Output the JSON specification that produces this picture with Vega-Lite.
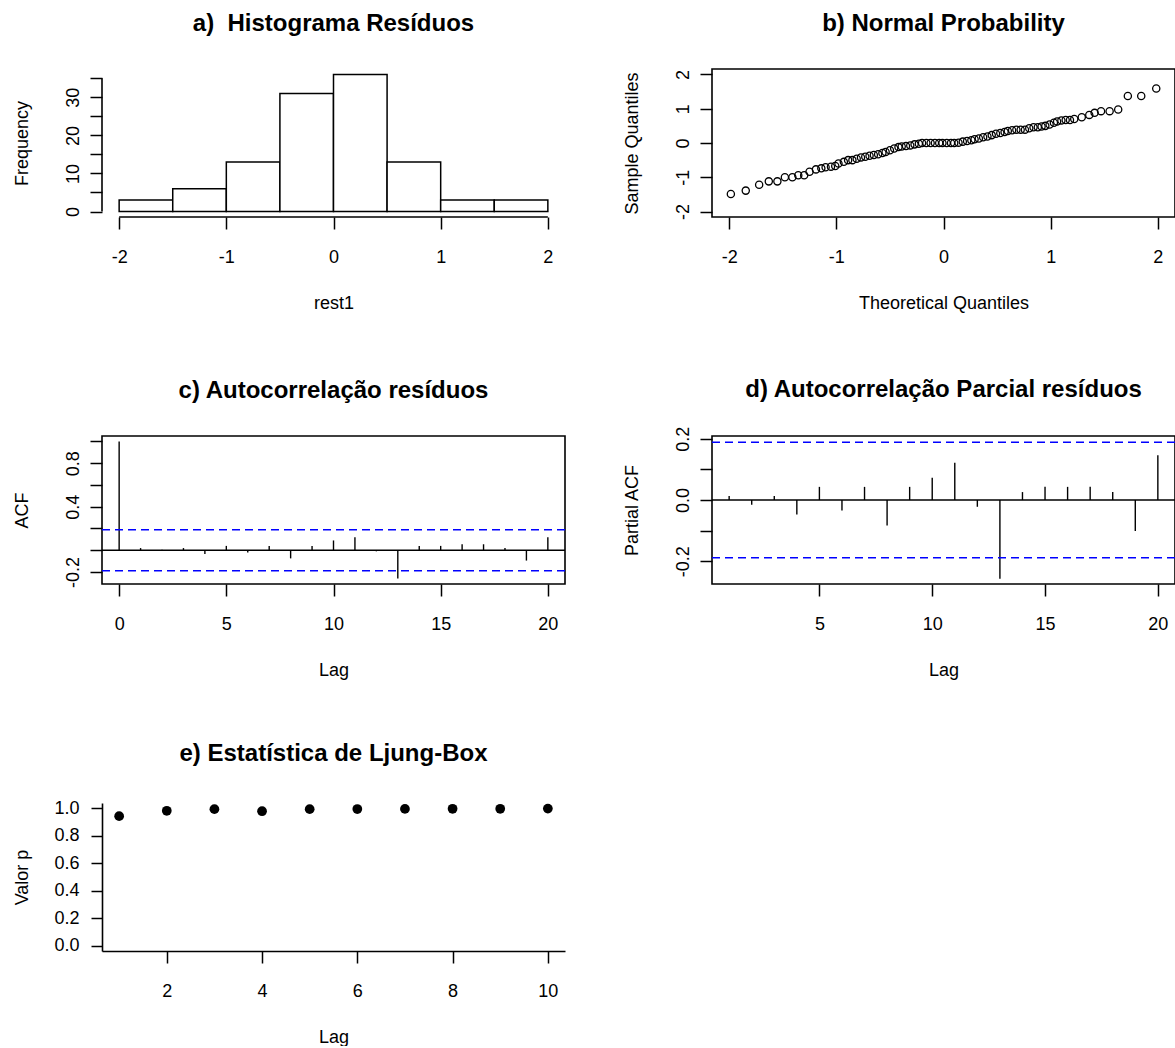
{
  "$schema": "https://vega.github.io/schema/vega-lite/v6.json",
  "background": "white",
  "padding": {"left": 12, "top": 11, "right": 0, "bottom": 0},
  "bounds": "flush",
  "columns": 2,
  "spacing": {"row": 219, "column": 147},
  "config": {
    "font": "Liberation Sans",
    "view": {"stroke": "black", "strokeWidth": 1.6},
    "axis": {
      "labelFont": "Liberation Sans", "labelFontSize": 18, "labelColor": "black",
      "titleFont": "Liberation Sans", "titleFontSize": 18, "titleFontWeight": "normal", "titleColor": "black",
      "tickColor": "black", "tickWidth": 1.5, "tickSize": 12,
      "domainColor": "black", "domainWidth": 1.6,
      "grid": false, "labelOverlap": false, "labelSeparation": -60, "labelFlush": false, "labelBound": false
    },
    "axisX": {
      "labelPadding": 33, "labelBaseline": "alphabetic", "labelAngle": 0, "labelAlign": "center",
      "titleBaseline": "alphabetic", "titleAlign": "center", "titleAngle": 0, "titleX": 231.5, "titleY": 91
    },
    "axisY": {
      "labelPadding": 12, "labelBaseline": "alphabetic", "labelAngle": 270, "labelAlign": "center",
      "titleBaseline": "alphabetic", "titleAlign": "center", "titleAngle": 270, "titleX": -75, "titleY": 74
    },
    "title": {"font": "Liberation Sans", "fontSize": 24, "fontWeight": "bold", "color": "black", "baseline": "alphabetic", "offset": 33, "anchor": "middle", "frame": "group"}
  },
  "datasets": {
    "hist": [
      {"bin_start": -2, "bin_end": -1.5, "count": 3},
      {"bin_start": -1.5, "bin_end": -1, "count": 6},
      {"bin_start": -1, "bin_end": -0.5, "count": 13},
      {"bin_start": -0.5, "bin_end": 0, "count": 31},
      {"bin_start": 0, "bin_end": 0.5, "count": 36},
      {"bin_start": 0.5, "bin_end": 1, "count": 13},
      {"bin_start": 1, "bin_end": 1.5, "count": 3},
      {"bin_start": 1.5, "bin_end": 2, "count": 3}
    ],
    "qq": [
      {"theoretical": -1.984, "sample": -1.49}, {"theoretical": -1.845, "sample": -1.39},
      {"theoretical": -1.72, "sample": -1.22}, {"theoretical": -1.63, "sample": -1.12},
      {"theoretical": -1.55, "sample": -1.12}, {"theoretical": -1.48, "sample": -1.0},
      {"theoretical": -1.41, "sample": -1.0}, {"theoretical": -1.355, "sample": -0.94},
      {"theoretical": -1.3, "sample": -0.94}, {"theoretical": -1.25, "sample": -0.84},
      {"theoretical": -1.19, "sample": -0.77}, {"theoretical": -1.14, "sample": -0.74},
      {"theoretical": -1.1, "sample": -0.71}, {"theoretical": -1.05, "sample": -0.69},
      {"theoretical": -1.01, "sample": -0.67}, {"theoretical": -0.98, "sample": -0.6},
      {"theoretical": -0.93, "sample": -0.55}, {"theoretical": -0.89, "sample": -0.5},
      {"theoretical": -0.85, "sample": -0.5}, {"theoretical": -0.81, "sample": -0.46},
      {"theoretical": -0.77, "sample": -0.42}, {"theoretical": -0.73, "sample": -0.4},
      {"theoretical": -0.69, "sample": -0.37}, {"theoretical": -0.65, "sample": -0.35},
      {"theoretical": -0.61, "sample": -0.33}, {"theoretical": -0.57, "sample": -0.29},
      {"theoretical": -0.54, "sample": -0.26}, {"theoretical": -0.5, "sample": -0.21},
      {"theoretical": -0.46, "sample": -0.16}, {"theoretical": -0.42, "sample": -0.12},
      {"theoretical": -0.39, "sample": -0.1}, {"theoretical": -0.35, "sample": -0.09},
      {"theoretical": -0.31, "sample": -0.07}, {"theoretical": -0.27, "sample": -0.04},
      {"theoretical": -0.23, "sample": -0.02}, {"theoretical": -0.2, "sample": 0.0},
      {"theoretical": -0.16, "sample": 0.0}, {"theoretical": -0.12, "sample": 0.0},
      {"theoretical": -0.08, "sample": 0.0}, {"theoretical": -0.04, "sample": 0.0},
      {"theoretical": -0.01, "sample": 0.0}, {"theoretical": 0.03, "sample": 0.0},
      {"theoretical": 0.07, "sample": 0.0}, {"theoretical": 0.1, "sample": 0.0},
      {"theoretical": 0.14, "sample": 0.01}, {"theoretical": 0.18, "sample": 0.04},
      {"theoretical": 0.22, "sample": 0.06}, {"theoretical": 0.26, "sample": 0.08},
      {"theoretical": 0.29, "sample": 0.11}, {"theoretical": 0.33, "sample": 0.13},
      {"theoretical": 0.37, "sample": 0.17}, {"theoretical": 0.41, "sample": 0.19},
      {"theoretical": 0.45, "sample": 0.23}, {"theoretical": 0.49, "sample": 0.27},
      {"theoretical": 0.53, "sample": 0.29}, {"theoretical": 0.57, "sample": 0.32},
      {"theoretical": 0.6, "sample": 0.35}, {"theoretical": 0.64, "sample": 0.37},
      {"theoretical": 0.68, "sample": 0.39}, {"theoretical": 0.72, "sample": 0.39},
      {"theoretical": 0.76, "sample": 0.39}, {"theoretical": 0.8, "sample": 0.43},
      {"theoretical": 0.84, "sample": 0.46}, {"theoretical": 0.88, "sample": 0.46},
      {"theoretical": 0.915, "sample": 0.48}, {"theoretical": 0.95, "sample": 0.5},
      {"theoretical": 0.99, "sample": 0.54}, {"theoretical": 1.03, "sample": 0.59},
      {"theoretical": 1.06, "sample": 0.63}, {"theoretical": 1.1, "sample": 0.66},
      {"theoretical": 1.14, "sample": 0.67}, {"theoretical": 1.18, "sample": 0.67},
      {"theoretical": 1.22, "sample": 0.7}, {"theoretical": 1.29, "sample": 0.75},
      {"theoretical": 1.36, "sample": 0.82}, {"theoretical": 1.41, "sample": 0.88},
      {"theoretical": 1.47, "sample": 0.93}, {"theoretical": 1.55, "sample": 0.93},
      {"theoretical": 1.63, "sample": 0.98}, {"theoretical": 1.72, "sample": 1.37},
      {"theoretical": 1.845, "sample": 1.37}, {"theoretical": 1.985, "sample": 1.59}
    ],
    "acf": [
      {"lag": 0, "acf": 1.0}, {"lag": 1, "acf": 0.02}, {"lag": 2, "acf": 0.005},
      {"lag": 3, "acf": 0.02}, {"lag": 4, "acf": -0.035}, {"lag": 5, "acf": 0.04},
      {"lag": 6, "acf": -0.02}, {"lag": 7, "acf": 0.04}, {"lag": 8, "acf": -0.075},
      {"lag": 9, "acf": 0.04}, {"lag": 10, "acf": 0.09}, {"lag": 11, "acf": 0.12},
      {"lag": 12, "acf": -0.01}, {"lag": 13, "acf": -0.26}, {"lag": 14, "acf": 0.04},
      {"lag": 15, "acf": 0.04}, {"lag": 16, "acf": 0.055}, {"lag": 17, "acf": 0.055},
      {"lag": 18, "acf": 0.02}, {"lag": 19, "acf": -0.095}, {"lag": 20, "acf": 0.12}
    ],
    "pacf": [
      {"lag": 1, "pacf": 0.013}, {"lag": 2, "pacf": -0.015}, {"lag": 3, "pacf": 0.013},
      {"lag": 4, "pacf": -0.047}, {"lag": 5, "pacf": 0.043}, {"lag": 6, "pacf": -0.034},
      {"lag": 7, "pacf": 0.043}, {"lag": 8, "pacf": -0.083}, {"lag": 9, "pacf": 0.043},
      {"lag": 10, "pacf": 0.073}, {"lag": 11, "pacf": 0.122}, {"lag": 12, "pacf": -0.022},
      {"lag": 13, "pacf": -0.257}, {"lag": 14, "pacf": 0.026}, {"lag": 15, "pacf": 0.043},
      {"lag": 16, "pacf": 0.043}, {"lag": 17, "pacf": 0.043}, {"lag": 18, "pacf": 0.026},
      {"lag": 19, "pacf": -0.101}, {"lag": 20, "pacf": 0.146}
    ],
    "clim": [{"limit": 0.1886}, {"limit": -0.1886}],
    "ljungbox": [
      {"lag": 1, "p": 0.944}, {"lag": 2, "p": 0.983}, {"lag": 3, "p": 0.995},
      {"lag": 4, "p": 0.98}, {"lag": 5, "p": 0.995}, {"lag": 6, "p": 0.996},
      {"lag": 7, "p": 0.997}, {"lag": 8, "p": 0.998}, {"lag": 9, "p": 0.998},
      {"lag": 10, "p": 0.999}
    ]
  },
  "concat": [
    {
      "title": {"text": "a)\u00a0 Histograma Resíduos"},
      "width": 463, "height": 148,
      "view": {"stroke": null},
      "layer": [
        {
          "data": {"name": "hist"},
          "mark": {"type": "rect", "fill": "white", "stroke": "black", "strokeWidth": 1.5},
          "encoding": {
            "x": {"field": "bin_start", "type": "quantitative",
                  "scale": {"domain": [-2.16, 2.16], "nice": false, "zero": false},
                  "axis": {"values": [-2, -1, 0, 1, 2], "tickCount": 50, "title": "rest1", "domain": false, "format": ".0f",
                           "labelExpr": "replace(datum.label, '\u2212', '-')"}},
            "x2": {"field": "bin_end"},
            "y": {"field": "count", "type": "quantitative",
                  "scale": {"domain": [-1.44, 37.44], "nice": false, "zero": false},
                  "axis": {"values": [0, 5, 10, 15, 20, 25, 30, 35], "tickCount": 50, "title": "Frequency", "domain": false, "format": ".0f",
                           "labelExpr": "datum.label == '0' || datum.label == '10' || datum.label == '20' || datum.label == '30' ? datum.label : ''"}},
            "y2": {"datum": 0}
          }
        },
        {
          "data": {"values": [{}]},
          "mark": {"type": "rule", "color": "black", "strokeWidth": 1.6},
          "encoding": {"x": {"datum": -2}, "x2": {"datum": 2}, "y": {"datum": -1.44}}
        },
        {
          "data": {"values": [{}]},
          "mark": {"type": "rule", "color": "black", "strokeWidth": 1.6},
          "encoding": {"x": {"datum": -2.16}, "y": {"datum": 0}, "y2": {"datum": 35}}
        }
      ]
    },
    {
      "title": {"text": "b) Normal Probability"},
      "width": 463, "height": 148,
      "data": {"name": "qq"},
      "mark": {"type": "point", "shape": "circle", "filled": false, "color": "black", "strokeWidth": 1.3, "size": 52, "opacity": 1},
      "encoding": {
        "x": {"field": "theoretical", "type": "quantitative",
              "scale": {"domain": [-2.16, 2.16], "nice": false, "zero": false},
              "axis": {"values": [-2, -1, 0, 1, 2], "tickCount": 50, "title": "Theoretical Quantiles", "domain": false, "format": ".0f",
                       "labelExpr": "replace(datum.label, '\u2212', '-')"}},
        "y": {"field": "sample", "type": "quantitative",
              "scale": {"domain": [-2.16, 2.16], "nice": false, "zero": false},
              "axis": {"values": [-2, -1, 0, 1, 2], "tickCount": 50, "title": "Sample Quantiles", "domain": false, "format": ".0f",
                       "labelExpr": "replace(datum.label, '\u2212', '-')"}}
      }
    },
    {
      "title": {"text": "c) Autocorrelação resíduos"},
      "width": 463, "height": 148,
      "layer": [
        {
          "data": {"name": "acf"},
          "mark": {"type": "rule", "color": "black", "strokeWidth": 1.4},
          "encoding": {
            "x": {"field": "lag", "type": "quantitative",
                  "scale": {"domain": [-0.8, 20.8], "nice": false, "zero": false},
                  "axis": {"values": [0, 5, 10, 15, 20], "tickCount": 50, "title": "Lag", "domain": false, "format": ".0f"}},
            "y": {"field": "acf", "type": "quantitative",
                  "scale": {"domain": [-0.3104, 1.0504], "nice": false, "zero": false},
                  "axis": {"values": [-0.2, 0, 0.2, 0.4, 0.6, 0.8, 1.0], "tickCount": 50, "title": "ACF", "domain": false, "format": ".1f",
                           "labelExpr": "datum.label == '0.8' || datum.label == '0.4' || datum.value < -0.1 ? replace(datum.label, '\u2212', '-') : ''"}},
            "y2": {"datum": 0}
          }
        },
        {
          "data": {"values": [{}]},
          "mark": {"type": "rule", "color": "black", "strokeWidth": 1.4},
          "encoding": {"y": {"datum": 0}}
        },
        {
          "data": {"name": "clim"},
          "mark": {"type": "rule", "color": "#0000FF", "strokeWidth": 1.5, "strokeDash": [8, 5]},
          "encoding": {"y": {"field": "limit", "type": "quantitative"}}
        }
      ]
    },
    {
      "title": {"text": "d) Autocorrelação Parcial resíduos", "offset": 24},
      "width": 463, "height": 148,
      "layer": [
        {
          "data": {"name": "pacf"},
          "mark": {"type": "rule", "color": "black", "strokeWidth": 1.4},
          "encoding": {
            "x": {"field": "lag", "type": "quantitative",
                  "scale": {"domain": [0.24, 20.76], "nice": false, "zero": false},
                  "axis": {"values": [5, 10, 15, 20], "tickCount": 50, "title": "Lag", "domain": false, "format": ".0f"}},
            "y": {"field": "pacf", "type": "quantitative",
                  "scale": {"domain": [-0.274, 0.209], "nice": false, "zero": false},
                  "axis": {"values": [-0.2, -0.1, 0, 0.1, 0.2], "tickCount": 50, "title": "Partial ACF", "domain": false, "format": ".1f",
                           "labelExpr": "abs(datum.value) < 0.01 || abs(abs(datum.value) - 0.2) < 0.01 ? replace(datum.label, '\u2212', '-') : ''"}},
            "y2": {"datum": 0}
          }
        },
        {
          "data": {"values": [{}]},
          "mark": {"type": "rule", "color": "black", "strokeWidth": 1.4},
          "encoding": {"y": {"datum": 0}}
        },
        {
          "data": {"name": "clim"},
          "mark": {"type": "rule", "color": "#0000FF", "strokeWidth": 1.5, "strokeDash": [8, 5]},
          "encoding": {"y": {"field": "limit", "type": "quantitative"}}
        }
      ]
    },
    {
      "title": {"text": "e) Estatística de Ljung-Box"},
      "width": 463, "height": 148,
      "view": {"stroke": null},
      "data": {"name": "ljungbox"},
      "mark": {"type": "point", "shape": "circle", "filled": true, "color": "black", "size": 95, "opacity": 1},
      "encoding": {
        "x": {"field": "lag", "type": "quantitative",
              "scale": {"domain": [0.64, 10.36], "nice": false, "zero": false},
              "axis": {"values": [2, 4, 6, 8, 10], "tickCount": 50, "title": "Lag", "domain": true, "format": ".0f"}},
        "y": {"field": "p", "type": "quantitative",
              "scale": {"domain": [-0.04, 1.04], "nice": false, "zero": false},
              "axis": {"values": [0, 0.2, 0.4, 0.6, 0.8, 1.0], "tickCount": 50, "title": "Valor p", "domain": true, "format": ".1f",
                       "labelAngle": 0, "labelAlign": "right", "labelBaseline": "middle", "labelPadding": 12, "tickSize": 11}}
      }
    }
  ]
}
